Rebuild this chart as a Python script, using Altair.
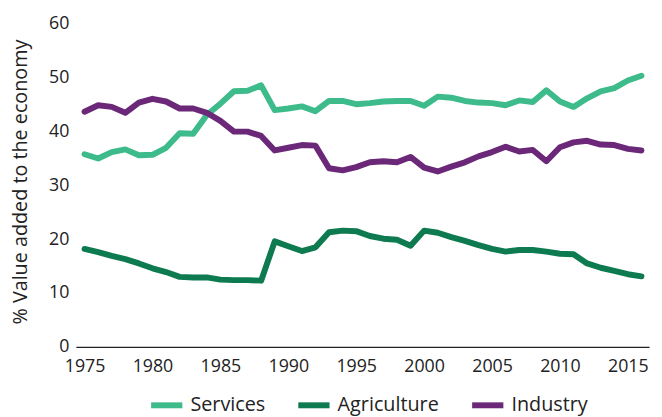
import altair as alt
import pandas as pd

years = list(range(1975, 2017))

services = [35.8, 35.0, 36.2, 36.7, 35.6, 35.7, 37.0, 39.7, 39.6, 43.1,
            45.2, 47.5, 47.6, 48.6, 44.0, 44.3, 44.7, 43.8, 45.7, 45.7,
            45.1, 45.3, 45.6, 45.7, 45.7, 44.8, 46.5, 46.3, 45.7, 45.4,
            45.3, 44.9, 45.8, 45.5, 47.7, 45.6, 44.6, 46.2, 47.5, 48.1,
            49.5, 50.4]

agriculture = [18.2, 17.6, 16.9, 16.3, 15.5, 14.6, 13.9, 13.0, 12.9, 12.9,
               12.5, 12.4, 12.4, 12.3, 19.6, 18.7, 17.8, 18.5, 21.3, 21.6,
               21.5, 20.6, 20.1, 19.9, 18.8, 21.6, 21.2, 20.4, 19.7, 18.9,
               18.2, 17.7, 18.0, 18.0, 17.7, 17.3, 17.2, 15.5, 14.7, 14.1,
               13.5, 13.1]

industry = [43.7, 44.9, 44.6, 43.5, 45.4, 46.1, 45.6, 44.3, 44.3, 43.5,
            42.0, 40.0, 40.0, 39.2, 36.5, 37.0, 37.5, 37.4, 33.2, 32.8,
            33.4, 34.3, 34.5, 34.3, 35.3, 33.3, 32.6, 33.5, 34.3, 35.4,
            36.2, 37.2, 36.3, 36.6, 34.5, 37.1, 38.0, 38.3, 37.6, 37.5,
            36.8, 36.5]

series_names = ["Services", "Agriculture", "Industry"]
series_colors = ["#3dbb8b", "#0d7a50", "#6b2878"]
x_ticks = [1975, 1980, 1985, 1990, 1995, 2000, 2005, 2010, 2015]
y_ticks = [0, 10, 20, 30, 40, 50, 60]

rows = []
for name, vals in zip(series_names, [services, agriculture, industry]):
    for y, v in zip(years, vals):
        rows.append({"year": y, "value": v, "sector": name})
df = pd.DataFrame(rows)

FONT = "Open Sans"

chart = alt.Chart(df).mark_line(
    strokeWidth=6, strokeCap="round", strokeJoin="round"
).encode(
    x=alt.X("year:Q",
            scale=alt.Scale(domain=[1974.36, 2016.56], nice=False, zero=False),
            axis=alt.Axis(values=x_ticks, format="d", title=None, grid=False,
                          ticks=False, domain=True, domainColor="#222222",
                          domainWidth=1.2, labelPadding=11, labelFontSize=18,
                          labelFont=FONT, labelColor="#222222",
                          labelFlush=False)),
    y=alt.Y("value:Q",
            scale=alt.Scale(domain=[0, 60], nice=False),
            axis=alt.Axis(values=y_ticks, title="% Value added to the economy",
                          grid=False, ticks=False, domain=False,
                          labelPadding=7, labelFontSize=18, labelFont=FONT,
                          labelColor="#222222", titleFont=FONT,
                          titleFontSize=20, titleFontWeight="normal",
                          titleColor="#222222", titleX=-46, titleY=159.5,
                          titleAngle=270, titleBaseline="bottom",
                          titleAlign="center")),
    color=alt.Color("sector:N",
                    scale=alt.Scale(domain=series_names, range=series_colors),
                    sort=series_names,
                    legend=alt.Legend(title=None, orient="none",
                                      direction="horizontal",
                                      legendX=73, legendY=367,
                                      symbolType="stroke", symbolSize=1000,
                                      symbolStrokeWidth=6, labelFont=FONT,
                                      labelFontSize=20, labelColor="#222222",
                                      labelOffset=5, columnPadding=21)),
).properties(
    width=580.3,
    height=326.8,
    autosize=alt.AutoSizeParams(type="none"),
    padding={"left": 68.7, "top": 13.7, "right": 5, "bottom": 68.5},
).configure_view(stroke=None)

chart.save("out.html", embed_options={"renderer": "svg", "actions": False})
